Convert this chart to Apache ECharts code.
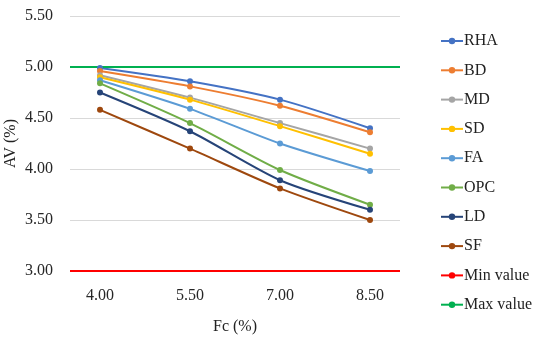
<!DOCTYPE html>
<html><head><meta charset="utf-8">
<script src="https://cdn.jsdelivr.net/npm/echarts@6/dist/echarts.min.js"></script>
<style>html,body{margin:0;padding:0;background:#fff}#c{width:550px;height:337px}</style>
</head><body><div id="c"></div>
<script>
var categories = [4.00, 5.50, 7.00, 8.50];
var seriesNames = ['RHA','BD','MD','SD','FA','OPC','LD','SF'];
var RHA = [4.99, 4.86, 4.68, 4.40];
var BD  = [4.96, 4.81, 4.62, 4.36];
var MD  = [4.92, 4.70, 4.45, 4.20];
var SD  = [4.90, 4.68, 4.42, 4.15];
var FA  = [4.87, 4.59, 4.25, 3.98];
var OPC = [4.84, 4.45, 3.99, 3.65];
var LD  = [4.75, 4.37, 3.89, 3.60];
var SF  = [4.58, 4.20, 3.81, 3.50];
var minValue = 3.00;
var maxValue = 5.00;
var xRange = [3.5, 9.0];
var yTicks = [3.00, 3.50, 4.00, 4.50, 5.00, 5.50];
var colors = ['#4472C4','#ED7D31','#A5A5A5','#FFC000','#5B9BD5','#70AD47','#264478','#9E480E','#FF0000','#00B050'];
var values = {RHA:RHA,BD:BD,MD:MD,SD:SD,FA:FA,OPC:OPC,LD:LD,SF:SF};
var font = 'Liberation Serif';

var series = seriesNames.map(function(n,i){
  return {
    name:n, type:'line', smooth:0.25,
    data: categories.map(function(c,j){return [c, values[n][j]];}),
    symbol:'circle', symbolSize:6,
    lineStyle:{width:2, color:colors[i]},
    itemStyle:{color:colors[i]}
  };
});
series.push({name:'Min value', type:'line', symbol:'none', data:[[xRange[0],minValue],[xRange[1],minValue]], lineStyle:{width:2,color:colors[8]}, itemStyle:{color:colors[8]}});
series.push({name:'Max value', type:'line', symbol:'none', data:[[xRange[0],maxValue],[xRange[1],maxValue]], lineStyle:{width:2,color:colors[9]}, itemStyle:{color:colors[9]}});

var chart = echarts.init(document.getElementById('c'), null, {renderer:'canvas'});
chart.setOption({
  animation:false,
  backgroundColor:'#fff',
  color: colors,
  grid:{left:70, right:150, top:16, bottom:66, containLabel:false, outerBoundsMode:'none'},
  xAxis:{
    type:'value', min:xRange[0], max:xRange[1], interval:0.5,
    name:'Fc (%)', nameLocation:'middle', nameGap:48, nameMoveOverlap:false,
    nameTextStyle:{fontFamily:font, fontSize:16, color:'#222'},
    axisLine:{show:false}, axisTick:{show:false}, splitLine:{show:false},
    axisLabel:{margin:17, fontFamily:font, fontSize:16, color:'#262626',
      formatter:function(v){ for(var i=0;i<categories.length;i++){ if(Math.abs(categories[i]-v)<1e-6) return v.toFixed(2);} return ''; }}
  },
  yAxis:{
    type:'value', min:yTicks[0], max:yTicks[yTicks.length-1], interval:0.5,
    name:'AV (%)', nameLocation:'middle', nameGap:51, nameRotate:90, nameMoveOverlap:false,
    nameTextStyle:{fontFamily:font, fontSize:16, color:'#222'},
    axisLine:{show:false}, axisTick:{show:false},
    splitLine:{lineStyle:{color:'#D9D9D9', width:1}},
    axisLabel:{margin:17, fontFamily:font, fontSize:16, color:'#262626', formatter:function(v){return v.toFixed(2);}}
  },
  legend:{
    orient:'vertical', left:435, top:28, itemWidth:22, itemHeight:8, itemGap:13.3,
    textStyle:{fontFamily:font, fontSize:16, color:'#222', padding:[0,0,0,-4]},
    data: seriesNames.concat(['Min value','Max value'])
  },
  series: series
});
</script></body></html>
